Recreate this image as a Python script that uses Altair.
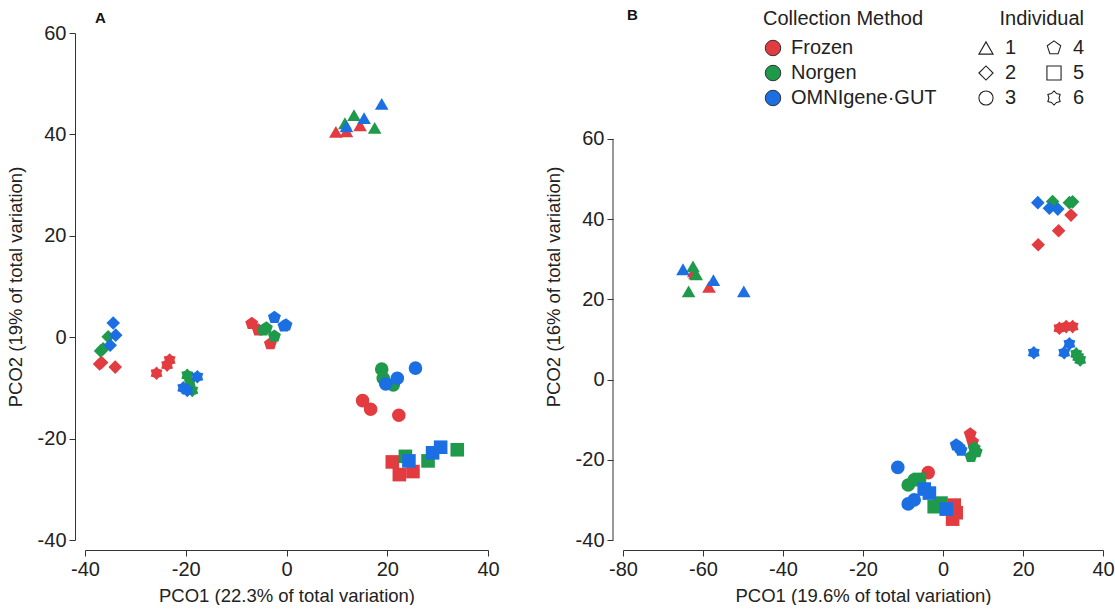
import math
import altair as alt
import pandas as pd

# ---- data -----------------------------------------------------------------
methods = ["Frozen", "Norgen", "OMNIgene·GUT"]
method_colors = ["#e23b40", "#1f9a4b", "#1b6fe2"]

# Panel A: PCO1 / PCO2 coordinates
a_individual = (["1"] * 9 + ["2"] * 9 + ["3"] * 9 + ["4"] * 9 + ["5"] * 9 + ["6"] * 9)
a_method = (["Frozen"] * 3 + ["Norgen"] * 3 + ["OMNIgene·GUT"] * 3) * 6
a_x = [9.8, 11.9, 14.6, 11.6, 13.4, 17.5, 11.9, 15.4, 18.9,
       -37.1, -34.0, -36.7, -35.4, -36.9, -36.4, -34.4, -33.9, -35.0,
       15.1, 16.7, 22.3, 18.9, 19.2, 21.2, 19.7, 22.0, 25.6,
       -6.9, -5.6, -3.2, -4.6, -4.0, -2.4, -2.4, -0.5, -0.1,
       21.0, 22.4, 25.1, 23.6, 28.1, 33.9, 24.3, 29.0, 30.6,
       -25.8, -23.7, -23.2, -19.7, -19.2, -18.7, -17.7, -20.5, -19.7]
a_y = [40.5, 40.6, 41.8, 42.2, 43.8, 41.3, 41.6, 43.2, 46.0,
       -5.3, -5.9, -5.0, 0.1, -2.7, -2.3, 2.8, 0.4, -1.6,
       -12.5, -14.2, -15.4, -6.3, -8.1, -9.4, -9.2, -8.1, -6.1,
       2.7, 1.4, -1.3, 1.4, 1.8, 0.2, 3.9, 2.2, 2.4,
       -24.6, -27.1, -26.5, -23.5, -24.4, -22.2, -24.4, -22.8, -21.7,
       -7.1, -5.5, -4.5, -7.5, -9.0, -10.5, -7.8, -10.0, -10.5]

# Panel B: PCO1 / PCO2 coordinates
b_individual = (["1"] * 9 + ["2"] * 9 + ["3"] * 6 + ["4"] * 8 + ["5"] * 9 + ["6"] * 9)
b_method = ((["Frozen"] * 3 + ["Norgen"] * 3 + ["OMNIgene·GUT"] * 3) * 2
            + ["Frozen"] + ["Norgen"] * 2 + ["OMNIgene·GUT"] * 3
            + ["Frozen"] * 2 + ["Norgen"] * 3 + ["OMNIgene·GUT"] * 3
            + (["Frozen"] * 3 + ["Norgen"] * 3 + ["OMNIgene·GUT"] * 3) * 2)
b_x = [-62.0, -58.5, -62.3, -62.5, -61.7, -63.6, -65.0, -57.4, -49.8,
       23.8, 28.9, 32.0, 27.4, 31.6, 32.4, 23.7, 26.6, 28.7,
       -3.7, -8.7, -7.2, -11.3, -8.7, -7.2,
       6.8, 7.4, 7.8, 7.0, 8.3, 3.3, 4.5, 4.0,
       2.8, 3.3, 2.4, -5.9, -2.2, -0.5, -4.7, -3.4, 0.8,
       29.1, 30.8, 32.4, 33.3, 34.3, 33.8, 22.7, 31.6, 30.3]
b_y = [26.5, 23.1, 27.0, 28.2, 26.2, 22.0, 27.5, 24.8, 22.0,
       33.6, 37.1, 41.0, 44.4, 44.1, 44.3, 44.1, 42.7, 42.5,
       -23.2, -26.3, -25.0, -21.9, -31.0, -30.0,
       -13.6, -15.5, -17.1, -19.2, -18.0, -16.3, -17.6, -16.9,
       -31.3, -33.2, -34.8, -24.9, -31.7, -30.8, -27.3, -28.3, -32.3,
       12.8, 13.2, 13.2, 6.4, 4.9, 5.6, 6.7, 8.9, 6.7]

df_a = pd.DataFrame({"x": a_x, "y": a_y, "method": a_method, "individual": a_individual})
df_b = pd.DataFrame({"x": b_x, "y": b_y, "method": b_method, "individual": b_individual})
for d in (df_a, df_b):
    d["order"] = d["method"].map({m: i for i, m in enumerate(methods)})

# ---- symbol shapes ----------------------------------------------------------
PENTAGON = "M0,-1L0.951,-0.309L0.588,0.809L-0.588,0.809L-0.951,-0.309Z"
_pts = []
for k in range(12):
    r = 1.0 if k % 2 == 0 else 0.72
    ang = math.radians(-90 + 30 * k)
    _pts.append(f"{r * math.cos(ang):.3f},{r * math.sin(ang):.3f}")
STAR6 = "M" + "L".join(_pts) + "Z"

# legend columns fill top-to-bottom: 1 2 3 | 4 5 6
shape_domain = ["1", "2", "3", "4", "5", "6"]
shape_range = ["triangle-up", "diamond", "circle", PENTAGON, "square", STAR6]

FONT = "Liberation Sans"
TXT = "#222222"

# legend positions are measured from the top-left corner of panel A's plot area
color_legend = alt.Legend(
    title="Collection Method", orient="none", legendX=678, legendY=-24,
    symbolType="circle", symbolSize=240, symbolStrokeColor="#333333",
    symbolStrokeWidth=1, labelFontSize=20, titleFontSize=20,
    titleFontWeight="normal", labelFont=FONT, titleFont=FONT,
    labelColor=TXT, titleColor=TXT, rowPadding=5, titlePadding=9,
    labelOffset=8,
)
shape_legend = alt.Legend(
    title="Individual", orient="none", legendX=891, legendY=-24, columns=2,
    columnPadding=27, symbolSize=200, symbolFillColor="transparent",
    symbolStrokeColor="#222222", symbolStrokeWidth=1.1,
    labelFontSize=20, titleFontSize=20, titleFontWeight="normal",
    labelFont=FONT, titleFont=FONT, labelColor=TXT, titleColor=TXT,
    rowPadding=5, titlePadding=9, titleAnchor="end", labelOffset=9,
)


def axis(title, values, domain=True, title_pad=10):
    return alt.Axis(
        title=title, values=values, grid=False, offset=10, domain=domain,
        domainColor="#333333", tickColor="#333333", tickSize=6,
        labelFont=FONT, labelFontSize=20, labelColor=TXT, labelPadding=3,
        labelExpr="toString(datum.value)",
        titleFont=FONT, titleFontSize=18.5, titleFontWeight="normal",
        titleColor=TXT, titlePadding=title_pad, labelFlush=False,
        labelOverlap=False,
    )


def points(df, xdom, ydom, xtitle, ytitle, xticks, yticks, ydomain_line=True):
    return alt.Chart(df).mark_point(filled=True, opacity=1, size=185).encode(
        x=alt.X("x:Q", scale=alt.Scale(domain=xdom, nice=False, zero=False),
                axis=axis(xtitle, xticks, title_pad=7)),
        y=alt.Y("y:Q", scale=alt.Scale(domain=ydom, nice=False, zero=False),
                axis=axis(ytitle, yticks, domain=ydomain_line, title_pad=12)),
        color=alt.Color("method:N", scale=alt.Scale(domain=methods, range=method_colors),
                        legend=color_legend),
        shape=alt.Shape("individual:N", scale=alt.Scale(domain=shape_domain, range=shape_range),
                        legend=shape_legend),
        order=alt.Order("order:Q"),
    )


def panel_label(letter, dx, dy):
    return alt.Chart(pd.DataFrame({"t": [letter]})).mark_text(
        font=FONT, fontSize=15, fontWeight="bold", color="#111111",
        align="left", baseline="middle",
    ).encode(x=alt.value(dx), y=alt.value(dy), text="t:N")


panel_a = alt.layer(
    points(df_a, [-40, 40], [-40, 60], "PCO1 (22.3% of total variation)",
           "PCO2 (19% of total variation)", [-40, -20, 0, 20, 40],
           [-40, -20, 0, 20, 40, 60]),
    panel_label("A", 10, -15),
).properties(width=403, height=507)

# panel B's y axis line only spans the labelled range (-40 to 60)
y_axis_line = alt.Chart(pd.DataFrame({"lo": [-40], "hi": [60]})).mark_rule(
    color="#333333", strokeWidth=1
).encode(x=alt.value(-10), y="lo:Q", y2="hi:Q")

panel_b = alt.layer(
    y_axis_line,
    points(df_b, [-80, 40], [-40, 86.4], "PCO1 (19.6% of total variation)",
           "PCO2 (16% of total variation)", [-80, -60, -40, -20, 0, 20, 40],
           [-40, -20, 0, 20, 40, 60], ydomain_line=False),
    panel_label("B", 4, -18),
).properties(width=480, height=507)

chart = alt.hconcat(panel_a, panel_b, spacing=44).properties(
    padding={"left": 6, "top": 8, "right": 0, "bottom": 0},
    background="white",
).configure_view(stroke=None)

chart.save("out.html", embed_options={"renderer": "svg", "actions": False})
